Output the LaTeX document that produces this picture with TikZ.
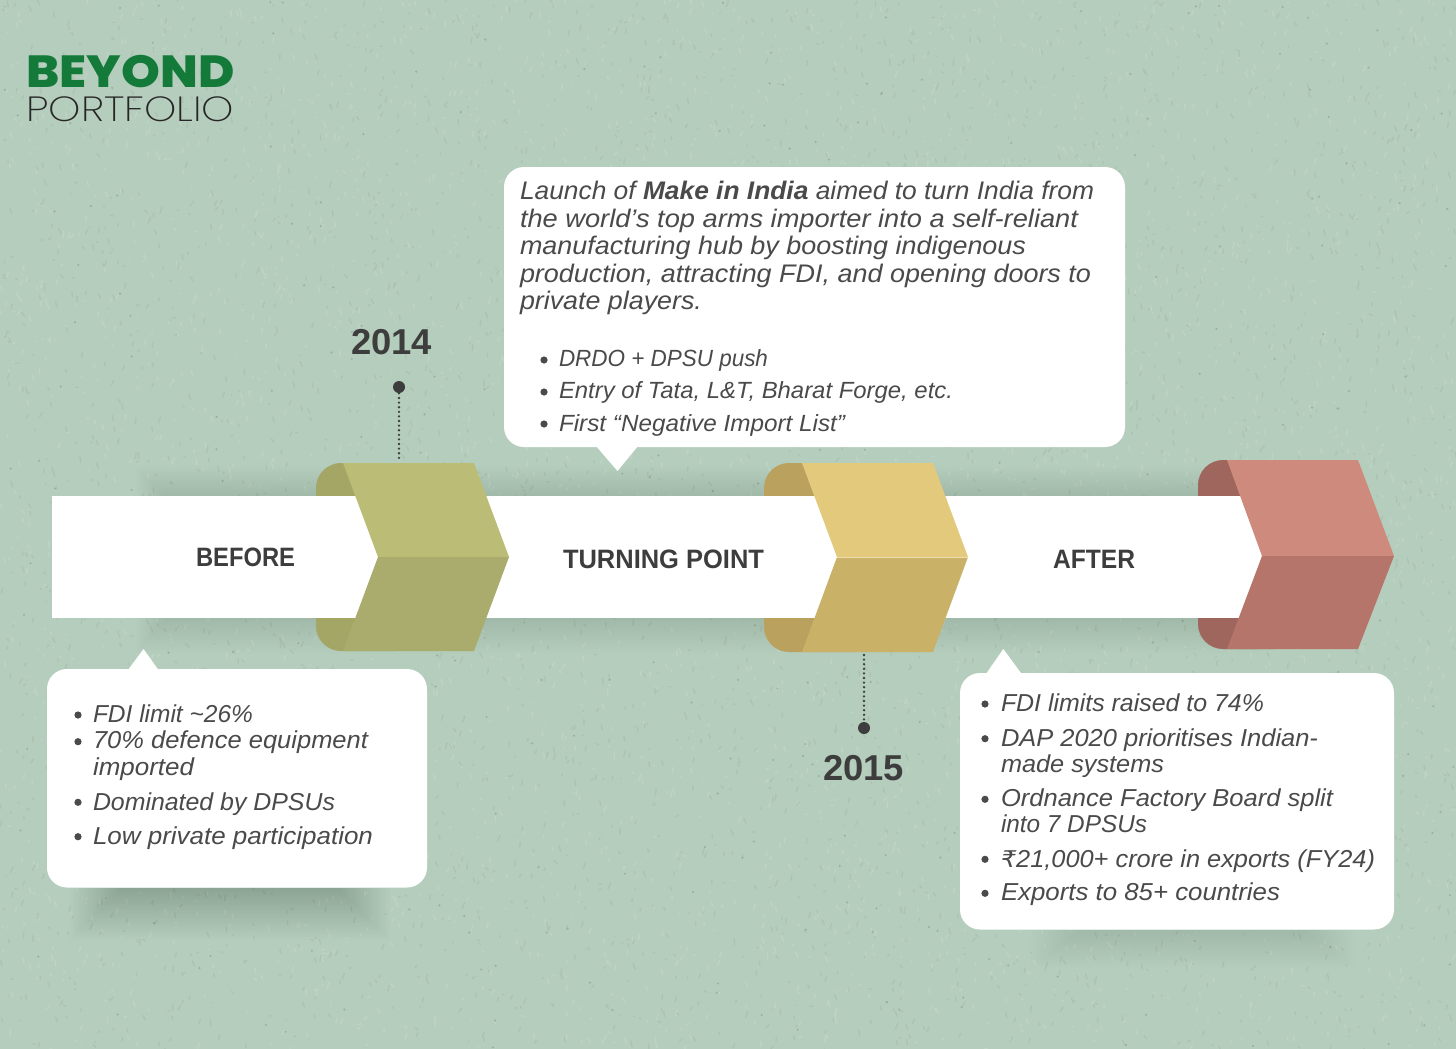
\documentclass[tikz,border=0pt]{standalone}
\usepackage{graphicx}
\usepackage{fontspec}
\setmainfont{Liberation Sans}
\newfontfamily\logoheavy{Poppins ExtraBold}
\newfontfamily\logolight{Poppins ExtraLight}
\newfontfamily\rupeefont{DejaVu Sans}
\definecolor{bgcol}{HTML}{B5CDBC}
\definecolor{inkcol}{HTML}{4A4A4A}
\definecolor{headcol}{HTML}{3D3D3D}
\definecolor{logogreen}{HTML}{137A3A}
\definecolor{oliveA}{HTML}{BBBD76}
\definecolor{oliveB}{HTML}{A9AC6C}
\definecolor{oliveC}{HTML}{A3A665}
\definecolor{goldA}{HTML}{E3C97C}
\definecolor{goldB}{HTML}{C9B168}
\definecolor{goldC}{HTML}{BBA15E}
\definecolor{roseA}{HTML}{CE8A7C}
\definecolor{roseB}{HTML}{B5756A}
\definecolor{roseC}{HTML}{9E665C}
\newsavebox\fitbox
\newlength\fitlen
\newcommand\fitw[2]{\sbox\fitbox{#2}\fitlen=\wd\fitbox\pgfmathsetmacro\fitr{#1*0.5/\the\fitlen}\scalebox{\fitr}[1]{\usebox\fitbox}}
\tikzset{
  whitebox/.style={fill=white,draw=none,rectangle,rounded corners=10pt,inner sep=0pt},
  barbox/.style={fill=white,draw=none,rectangle,inner sep=0pt},
  linetxt/.style={anchor=base west,inner sep=0pt,outer sep=0pt,text=inkcol},
  bodyfont/.style={font=\fontsize{12.25}{14}\selectfont\itshape},
  smallfont/.style={font=\fontsize{11.7}{14}\selectfont\itshape},
  parafont/.style={font=\fontsize{12.7}{14}\selectfont\itshape},
  headtxt/.style={anchor=base west,inner sep=0pt,outer sep=0pt,text=headcol,font=\fontsize{13.3}{15}\selectfont\bfseries},
  yeartxt/.style={anchor=base west,inner sep=0pt,outer sep=0pt,text=headcol,font=\fontsize{18}{20}\selectfont\bfseries},
  dotmark/.style={circle,fill=headcol,draw=none,minimum size=6pt,inner sep=0pt},
  leader/.style={draw=headcol,line width=1.3pt,line cap=round,dash pattern=on 0pt off 2.3pt},
  bulletmark/.style={fill=inkcol,draw=none},
}
\newcommand\softshadow[6]{% x1, edge y, x2, far y, strength per layer, side inset per layer
  \foreach \k in {0,...,19}{
    \fill[black,opacity=#5] ({#1+\k*#6},#2) rectangle ({#3-\k*#6},{#2+(#4-#2)*(1-\k/20)});
  }}
\begin{document}
\begin{tikzpicture}[x=0.5pt,y=-0.5pt]
\useasboundingbox (0,0) rectangle (1456,1049);
\fill[bgcol] (0,0) rectangle (1456,1049);
% wall texture
\pgfmathsetseed{4217}
\draw[white,opacity=.13,line width=.7pt,line cap=round]
  foreach \i in {1,...,3600}{ ({rnd*1456},{rnd*1049}) -- ++({rnd*5-2.5},{rnd*12-6}) };
\draw[black!70!bgcol,opacity=.07,line width=.7pt,line cap=round]
  foreach \i in {1,...,3600}{ ({rnd*1456},{rnd*1049}) -- ++({rnd*5-2.5},{rnd*12-6}) };
\fill[black,opacity=.14]
  foreach \i in {1,...,320}{ ({rnd*1456},{rnd*1049}) circle[radius=1.2] };

% soft shadows
\softshadow{135}{496}{1260}{466}{.0038}{1.5}
\softshadow{135}{618}{1260}{654}{.0038}{1.5}
\softshadow{70}{888}{390}{940}{.0062}{2.6}
\softshadow{1030}{930}{1355}{968}{.0042}{2.6}

% tabs behind the bar
\fill[oliveC,rounded corners=12.5pt] (420,463) -- (316,463) -- (316,651) -- (420,651) -- cycle;
\fill[goldC,rounded corners=12.5pt] (880,463) -- (764,463) -- (764,652) -- (880,652) -- cycle;
\fill[roseC,rounded corners=12.5pt] (1300,460) -- (1198,460) -- (1198,649) -- (1300,649) -- cycle;

% white bar
\node[barbox,minimum width=605pt,minimum height=61pt] (bar) at (657,557) {};

% chevrons
\fill[oliveA] (343,463) -- (474,463) -- (509,557) -- (378,557) -- cycle;
\fill[oliveB] (378,557) -- (509,557) -- (474,651) -- (343,651) -- cycle;
\fill[goldA] (802,463) -- (933,463) -- (968,557) -- (837,557) -- cycle;
\fill[goldB] (837,557) -- (968,557) -- (933,652) -- (802,652) -- cycle;
\draw[goldA!60!white,line width=.5pt] (837,557) -- (968,557);
\fill[roseA] (1227,460) -- (1358,460) -- (1394,556) -- (1262,556) -- cycle;
\fill[roseB] (1262,556) -- (1394,556) -- (1358,649) -- (1227,649) -- cycle;

% bar labels
\node[headtxt] (lblBefore) at (196,566) {\fitw{99}{BEFORE}};
\node[headtxt] (lblTurning) at (563,568) {\fitw{201}{TURNING POINT}};
\node[headtxt] (lblAfter) at (1053,568) {\fitw{82}{AFTER}};

% year markers
\coordinate (chevTop) at (399,462);
\coordinate (chevBottom) at (864,655);
\node[dotmark] (dotA) at (399,387) {};
\node[dotmark] (dotB) at (864,728) {};
\draw[leader] (dotA) -- (chevTop);
\draw[leader] (chevBottom) -- (dotB);
\node[yeartxt] (yearA) at (351,354) {\fitw{81}{2014}};
\node[yeartxt] (yearB) at (823,780) {\fitw{81}{2015}};

% callouts
\node[whitebox,minimum width=310.5pt,minimum height=140pt] (boxTop) at (814.5,307) {};
\fill[white] (596,446) -- (617.5,471) -- (638,446) -- cycle;
\node[whitebox,minimum width=190pt,minimum height=109.25pt] (boxLeft) at (237,778.25) {};
\fill[white] (128,670) -- (143.5,649) -- (158.5,670) -- cycle;
\node[whitebox,minimum width=217pt,minimum height=128.25pt] (boxRight) at (1177,801.25) {};
\fill[white] (986,674) -- (1003.3,649) -- (1021.7,674) -- cycle;

% top callout text
\node[linetxt,parafont] (tA) at (520,199.5) {\fitw{574}{Launch of \textbf{Make in India} aimed to turn India from}};
\node[linetxt,parafont] (tB) at (520,227) {\fitw{558}{the world’s top arms importer into a self-reliant}};
\node[linetxt,parafont] (tC) at (520,254.5) {\fitw{506}{manufacturing hub by boosting indigenous}};
\node[linetxt,parafont] (tD) at (520,282) {\fitw{571}{production, attracting FDI, and opening doors to}};
\node[linetxt,parafont] (tE) at (520,309.5) {\fitw{182}{private players.}};
\foreach \yy in {360,392,424}{\fill[bulletmark] (544,\yy) circle[radius=3.6];}
\node[linetxt,smallfont] (tF) at (559,366.5) {\fitw{209}{DRDO + DPSU push}};
\node[linetxt,smallfont] (tG) at (559,398.5) {\fitw{394}{Entry of Tata, L\&T, Bharat Forge, etc.}};
\node[linetxt,smallfont] (tH) at (559,431) {\fitw{286}{First “Negative Import List”}};

% left callout text
\foreach \yy in {715,741.7,802.3,836.7}{\fill[bulletmark] (78,\yy) circle[radius=3.6];}
\node[linetxt,bodyfont] (lA) at (93,722.7) {\fitw{160}{FDI limit \char"007E 26\%}};
\node[linetxt,bodyfont] (lB) at (93,748.5) {\fitw{275}{70\% defence equipment}};
\node[linetxt,bodyfont] (lC) at (93,775) {\fitw{101}{imported}};
\node[linetxt,bodyfont] (lD) at (93,810) {\fitw{242}{Dominated by DPSUs}};
\node[linetxt,bodyfont] (lE) at (93,844) {\fitw{280}{Low private participation}};

% right callout text
\foreach \yy in {704,738.7,799.3,859.3,893.3}{\fill[bulletmark] (985,\yy) circle[radius=3.6];}
\node[linetxt,bodyfont] (rA) at (1001,711.7) {\fitw{263}{FDI limits raised to 74\%}};
\node[linetxt,bodyfont] (rB) at (1001,746) {\fitw{317}{DAP 2020 prioritises Indian-}};
\node[linetxt,bodyfont] (rC) at (1001,772.3) {\fitw{163}{made systems}};
\node[linetxt,bodyfont] (rD) at (1001,806.7) {\fitw{332}{Ordnance Factory Board split}};
\node[linetxt,bodyfont] (rE) at (1001,832.7) {\fitw{146}{into 7 DPSUs}};
\node[linetxt,bodyfont] (rF) at (1001,867.3) {\fitw{374}{{\rupeefont\itshape\fontsize{11.5}{14}\selectfont ₹}21,000+ crore in exports (FY24)}};
\node[linetxt,bodyfont] (rG) at (1001,900.7) {\fitw{279}{Exports to 85+ countries}};

% logo
\node[anchor=base west,inner sep=0pt,text=logogreen,font=\fontsize{22.5}{24}\logoheavy] (logoA) at (26,87.5) {\fitw{208}{BEYOND}};
\node[anchor=base west,inner sep=0pt,text=black!85,font=\fontsize{17.5}{19}\logolight] (logoB) at (26,121.7) {\fitw{208}{PORTFOLIO}};
\end{tikzpicture}
\end{document}
